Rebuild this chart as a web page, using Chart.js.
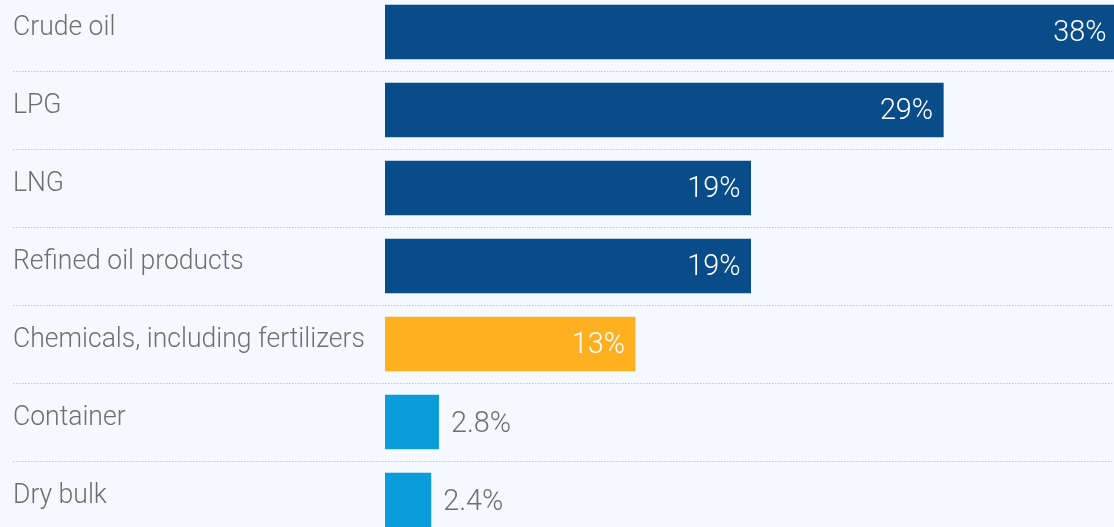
<!DOCTYPE html>
<html>
<head>
<meta charset="utf-8">
<script src="https://cdn.jsdelivr.net/npm/chart.js@4"></script>
<style>
  html, body { margin: 0; padding: 0; background: #f5f9fd; overflow: hidden; width: 1114px; height: 527px; }
  #wrap { position: absolute; left: 0; top: -7px; width: 1117px; height: 546px; }
</style>
</head>
<body>
<div id="wrap"><canvas id="c" width="1117" height="546"></canvas></div>
<script>
const categories = ["Crude oil", "LPG", "LNG", "Refined oil products", "Chemicals, including fertilizers", "Container", "Dry bulk"];
const shares = [38, 29, 19, 19, 13, 2.8, 2.4];
const valueLabels = ["38%", "29%", "19%", "19%", "13%", "2.8%", "2.4%"];
const barColors = ["#084c8a", "#084c8a", "#084c8a", "#084c8a", "#fdb120", "#0b9cdb", "#0b9cdb"];

const FONT = 'Roboto, "Noto Sans", sans-serif';
const TEXT = '#6f6f6f';

function drawCondensed(ctx, txt, x, y, sx, align) {
  ctx.save();
  const w = ctx.measureText(txt).width * sx;
  const left = align === 'right' ? x - w : x;
  ctx.translate(left, y);
  ctx.scale(sx, 1);
  ctx.textAlign = 'left';
  ctx.fillText(txt, 0, 0);
  ctx.restore();
}

const separators = {
  id: 'separators',
  beforeDatasetsDraw(chart) {
    const ctx = chart.ctx, y = chart.scales.y;
    ctx.save();
    ctx.strokeStyle = '#c3c7cc';
    ctx.lineWidth = 1;
    ctx.setLineDash([1.5, 1.5]);
    for (let i = 0; i < categories.length - 1; i++) {
      const p = Math.round((y.getPixelForValue(i) + y.getPixelForValue(i + 1)) / 2) + 0.5;
      ctx.beginPath();
      ctx.moveTo(13, p);
      ctx.lineTo(chart.width, p);
      ctx.stroke();
    }
    ctx.restore();
  }
};

const textPlugin = {
  id: 'texts',
  afterDatasetsDraw(chart) {
    const ctx = chart.ctx, y = chart.scales.y;
    const meta = chart.getDatasetMeta(0);
    ctx.save();
    ctx.textBaseline = 'alphabetic';
    // category labels
    ctx.font = '300 28px ' + FONT;
    ctx.fillStyle = TEXT;
    categories.forEach((c, i) => {
      drawCondensed(ctx, c, 13, y.getPixelForValue(i) + 2.5, 0.947, 'left');
    });
    // value labels
    ctx.font = '300 30px ' + FONT;
    meta.data.forEach((bar, i) => {
      const txt = valueLabels[i];
      const w = ctx.measureText(txt).width;
      const barW = bar.x - bar.base;
      if (barW > w + 20) {
        ctx.fillStyle = '#ffffff';
        drawCondensed(ctx, txt, bar.x - 10.5, bar.y + 9, 0.96, 'right');
      } else {
        ctx.fillStyle = TEXT;
        drawCondensed(ctx, txt, bar.x + 12, bar.y + 9.5, 0.96, 'left');
      }
    });
    ctx.restore();
  }
};

new Chart(document.getElementById('c'), {
  type: 'bar',
  data: {
    labels: categories,
    datasets: [{
      data: shares,
      backgroundColor: barColors,
      borderWidth: 0,
      barPercentage: 0.7,
      categoryPercentage: 1
    }]
  },
  options: {
    indexAxis: 'y',
    responsive: false,
    animation: false,
    layout: { padding: { left: 385, right: 0, top: 0, bottom: 0 } },
    plugins: { legend: { display: false }, tooltip: { enabled: false } },
    scales: {
      x: { display: false, min: 0, max: 38 },
      y: { display: false }
    }
  },
  plugins: [separators, textPlugin]
});
</script>
</body>
</html>
